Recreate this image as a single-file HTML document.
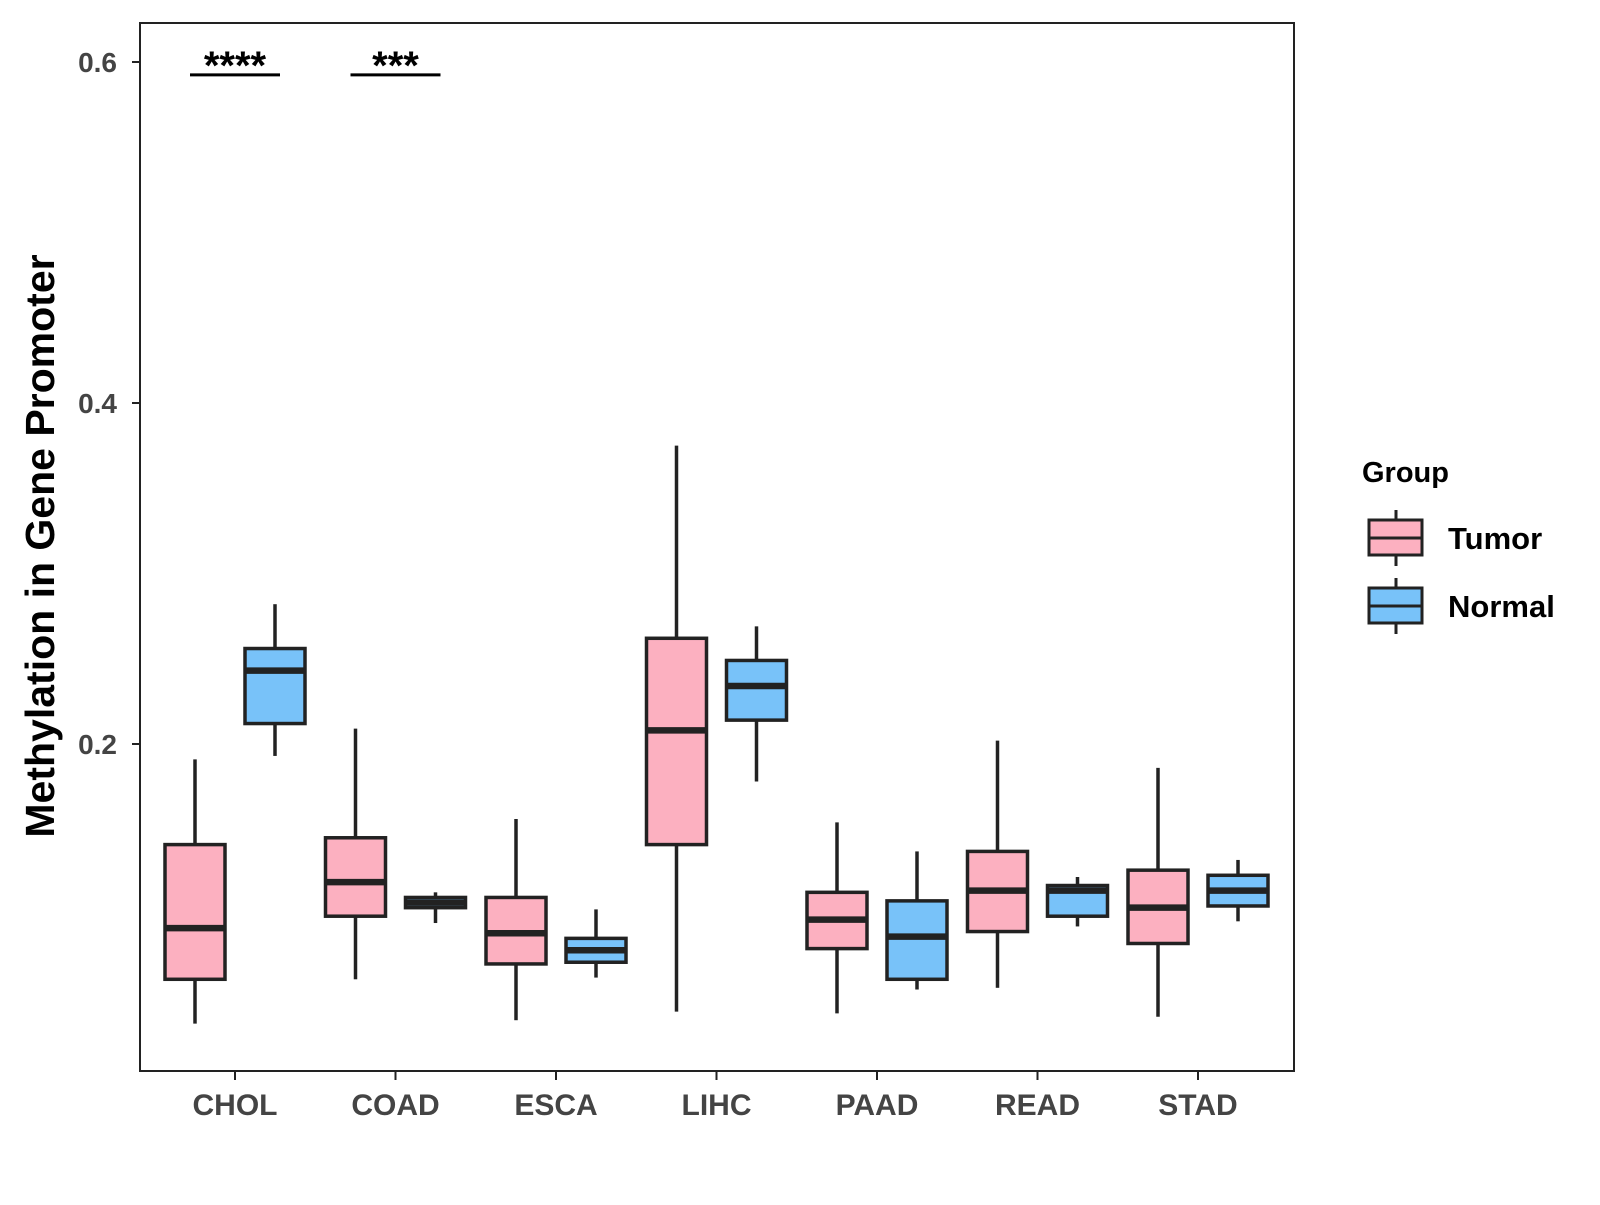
<!DOCTYPE html>
<html><head><meta charset="utf-8"><style>
body{margin:0;background:#fff}
svg text{font-family:"Liberation Sans",Arial,sans-serif;font-weight:bold}
</style></head><body>
<svg id="chart" width="1600" height="1200" viewBox="0 0 1600 1200" xmlns="http://www.w3.org/2000/svg">
<rect width="1600" height="1200" fill="#fff"/>
<g id="plot"></g>
</svg>
<script>
const categories = ["CHOL","COAD","ESCA","LIHC","PAAD","READ","STAD"];
// [lowWhisker, Q1, median, Q3, highWhisker]
const tumorStats = [
 [0.036,0.062,0.092,0.141,0.191],
 [0.062,0.099,0.119,0.145,0.209],
 [0.038,0.071,0.089,0.110,0.156],
 [0.043,0.141,0.208,0.262,0.375],
 [0.042,0.080,0.097,0.113,0.154],
 [0.057,0.090,0.114,0.137,0.202],
 [0.040,0.083,0.104,0.126,0.186]];
const normalStats = [
 [0.193,0.212,0.243,0.256,0.282],
 [0.095,0.104,0.107,0.110,0.113],
 [0.063,0.072,0.079,0.086,0.103],
 [0.178,0.214,0.234,0.249,0.269],
 [0.056,0.062,0.087,0.108,0.137],
 [0.093,0.099,0.114,0.117,0.122],
 [0.096,0.105,0.114,0.123,0.132]];
const yTicks = [0.2,0.4,0.6];
const yTickLabels = ["0.2","0.4","0.6"];
const sigCategories = ["CHOL","COAD"];
const sigLabels = ["****","***"];
const sigValue = 0.593;

const L=140,R=1294,T=23,B=1071;
const y=v=>1085-v*1705;
const x=i=>235+i*160.5;
const NS="http://www.w3.org/2000/svg";
const g=document.getElementById('plot');
function mk(tag,a,parent){const e=document.createElementNS(NS,tag);for(const k in a)e.setAttribute(k,a[k]);(parent||g).appendChild(e);return e;}

const panel=mk('rect',{x:L,y:T,width:R-L,height:B-T,fill:'none',stroke:'#222','stroke-width':2});



yTicks.forEach((v,i)=>{
 const t=mk('line',{x1:L-8,x2:L,y1:y(v),y2:y(v),stroke:'#222','stroke-width':2});
 
 
 const tx=mk('text',{x:L-23,y:y(v)+10,'text-anchor':'end','font-size':28,fill:'#444'});
 tx.textContent=yTickLabels[i];
 
 
});
categories.forEach((c,i)=>{
 const t=mk('line',{x1:x(i),x2:x(i),y1:B,y2:B+9,stroke:'#222','stroke-width':2});
 
 
 const tx=mk('text',{x:x(i),y:1115,'text-anchor':'middle','font-size':30,fill:'#444'});
 tx.textContent=c;
 
 
});

function box(s,cx,fill,name){
 const w=60;
 const grp=mk('g',{});
 
 
 mk('line',{x1:cx,x2:cx,y1:y(s[0]),y2:y(s[1]),stroke:'#222','stroke-width':3.5},grp);
 mk('line',{x1:cx,x2:cx,y1:y(s[3]),y2:y(s[4]),stroke:'#222','stroke-width':3.5},grp);
 mk('rect',{x:cx-w/2,y:y(s[3]),width:w,height:y(s[1])-y(s[3]),fill:fill,stroke:'#222','stroke-width':3.5},grp);
 mk('line',{x1:cx-w/2,x2:cx+w/2,y1:y(s[2]),y2:y(s[2]),stroke:'#222','stroke-width':6.5},grp);
}
categories.forEach((c,i)=>{
 box(tumorStats[i],x(i)-40,'#FCB0C0','box-tumor-'+c.toLowerCase());
 box(normalStats[i],x(i)+40,'#78C2F9','box-normal-'+c.toLowerCase());
});
sigCategories.forEach((c,k)=>{
 const i=categories.indexOf(c);
 const ln=mk('line',{x1:x(i)-45,x2:x(i)+45,y1:y(sigValue)+1,y2:y(sigValue)+1,stroke:'#000','stroke-width':3});
 
 
 const tx=mk('text',{x:x(i),y:79,'text-anchor':'middle','font-size':40,fill:'#000'});
 tx.textContent=sigLabels[k];
 
 
});

const yt=mk('text',{x:0,y:0,'text-anchor':'middle','font-size':41,fill:'#000',transform:'translate(54,546) rotate(-90)'});
yt.textContent='Methylation in Gene Promoter';



const lt=mk('text',{x:1362,y:482,'font-size':29,fill:'#000'});
lt.textContent='Group';


[['Tumor','#FCB0C0',538],['Normal','#78C2F9',606]].forEach(([n,f,cy])=>{
 const lg=mk('g',{});
 
 
 mk('line',{x1:1396,x2:1396,y1:cy-28,y2:cy+28,stroke:'#222','stroke-width':3},lg);
 mk('rect',{x:1369,y:cy-18,width:53,height:35,fill:f,stroke:'#222','stroke-width':3},lg);
 mk('line',{x1:1369,x2:1422,y1:cy,y2:cy,stroke:'#222','stroke-width':3},lg);
 const tx=mk('text',{x:1448,y:cy+11,'font-size':31,fill:'#000'},lg);
 tx.textContent=n;
});
</script>
</body></html>
